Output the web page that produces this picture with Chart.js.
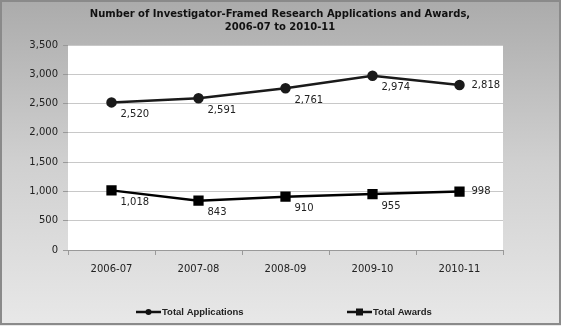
<!DOCTYPE html>
<html>
<head>
<meta charset="utf-8">
<title>Investigator-Framed Research Applications and Awards</title>
<script src="https://cdn.jsdelivr.net/npm/chart.js@4"></script>
<style>
  html, body { margin: 0; padding: 0; background: #fff; }
  #wrap { width: 561px; height: 326px; position: relative; }
</style>
</head>
<body>
<div id="wrap"><canvas id="grantChart" width="561" height="326"></canvas></div>
<script>
// Fiscal years and yearly totals
const years = ['2006-07', '2007-08', '2008-09', '2009-10', '2010-11'];
const totalApplications = [2520, 2591, 2761, 2974, 2818];
const totalAwards = [1018, 843, 910, 955, 998];
const yTicks = [0, 500, 1000, 1500, 2000, 2500, 3000, 3500];

const titleLines = ['Number of Investigator-Framed Research Applications and Awards,', '2006-07 to 2010-11'];
const FONT = '"DejaVu Sans", Verdana, sans-serif';
const LEGEND_FONT = '"Liberation Sans", Arial, sans-serif';

// Gray gradient backdrop, white plot area and frame
const backdrop = {
    id: 'backdrop',
    beforeDraw(chart) {
        const { ctx, width, height, chartArea: a } = chart;
        ctx.save();
        const g = ctx.createLinearGradient(0, 0, 0, height);
        g.addColorStop(0, '#ababab');
        g.addColorStop(0.5, '#d0d0d0');
        g.addColorStop(1, '#e8e8e8');
        ctx.fillStyle = g;
        ctx.fillRect(0, 0, width, height);
        ctx.fillStyle = '#ffffff';
        ctx.fillRect(a.left, a.top, a.right - a.left, a.bottom - a.top);
        ctx.strokeStyle = '#8a8a8a';
        ctx.lineWidth = 2;
        ctx.strokeRect(1, 1, width - 2, height - 3);
        ctx.restore();
    }
};

// Title, value labels and the line-with-marker legend
const overlay = {
    id: 'overlay',
    afterDraw(chart) {
        const { ctx } = chart;
        ctx.save();
        ctx.fillStyle = '#111';
        ctx.textAlign = 'center';
        ctx.textBaseline = 'middle';
        ctx.font = 'bold 10px ' + FONT;
        ctx.fillText(titleLines[0], 280, 14);
        ctx.fillText(titleLines[1], 280, 27);

        ctx.font = '10px ' + FONT;
        ctx.fillStyle = '#222';
        ctx.textAlign = 'left';
        chart.data.datasets.forEach((ds, i) => {
            const meta = chart.getDatasetMeta(i);
            meta.data.forEach((pt, j) => {
                const txt = ds.data[j].toLocaleString('en-US');
                if (j === ds.data.length - 1) {
                    ctx.fillText(txt, pt.x + 12, pt.y);
                } else {
                    ctx.fillText(txt, pt.x + 9, pt.y + 12);
                }
            });
        });

        // legend entries
        const items = [
            { x: 136, label: 'Total Applications', style: 'circle' },
            { x: 347, label: 'Total Awards', style: 'rect' }
        ];
        const ly = 312;
        ctx.font = 'bold 9.5px ' + LEGEND_FONT;
        items.forEach(it => {
            ctx.strokeStyle = '#111';
            ctx.fillStyle = '#111';
            ctx.lineWidth = 2.5;
            ctx.beginPath();
            ctx.moveTo(it.x, ly);
            ctx.lineTo(it.x + 25, ly);
            ctx.stroke();
            const cx = it.x + 12.5;
            if (it.style === 'circle') {
                ctx.beginPath();
                ctx.arc(cx, ly, 3, 0, Math.PI * 2);
                ctx.fill();
            } else {
                ctx.fillRect(cx - 3.5, ly - 3.5, 7, 7);
            }
            ctx.fillStyle = '#222';
            ctx.fillText(it.label, it.x + 26, ly);
        });
        ctx.restore();
    }
};

new Chart(document.getElementById('grantChart'), {
    type: 'line',
    data: {
        labels: years,
        datasets: [
            {
                label: 'Total Applications',
                data: totalApplications,
                borderColor: '#1a1a1a',
                backgroundColor: '#1a1a1a',
                borderWidth: 2.5,
                pointStyle: 'circle',
                pointRadius: 4,
                pointHoverRadius: 4,
                tension: 0
            },
            {
                label: 'Total Awards',
                data: totalAwards,
                borderColor: '#000',
                backgroundColor: '#000',
                borderWidth: 2.5,
                pointStyle: 'rect',
                pointRadius: 5.5,
                pointHoverRadius: 5.5,
                tension: 0
            }
        ]
    },
    options: {
        responsive: false,
        animation: false,
        events: [],
        layout: { padding: { top: 45, right: 58, bottom: 0, left: 0 } },
        scales: {
            x: {
                offset: true,
                grid: { offset: true, drawOnChartArea: false, drawTicks: true, tickLength: 5, color: '#999' },
                border: { color: '#999' },
                ticks: { color: '#222', font: { family: FONT, size: 10 }, padding: 8, maxRotation: 0 },
                afterFit(scale) { scale.height = 76; }
            },
            y: {
                min: 0,
                max: 3500,
                afterBuildTicks(scale) { scale.ticks = yTicks.map(v => ({ value: v })); },
                grid: { color: '#c8c8c8', tickLength: 5, tickColor: '#999' },
                border: { display: false },
                ticks: {
                    color: '#222',
                    font: { family: FONT, size: 10 },
                    padding: 5,
                    callback: v => v.toLocaleString('en-US')
                },
                afterFit(scale) { scale.width = 68; }
            }
        },
        plugins: {
            legend: { display: false },
            tooltip: { enabled: false }
        }
    },
    plugins: [backdrop, overlay]
});
</script>
</body>
</html>
